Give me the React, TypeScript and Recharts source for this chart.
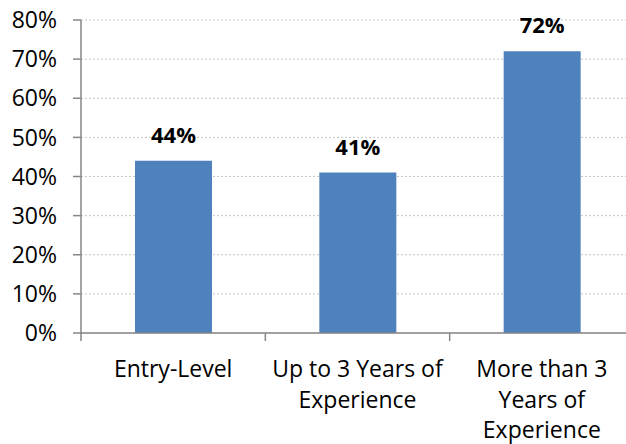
import React from 'react';
import { BarChart, Bar, XAxis, YAxis, CartesianGrid, LabelList } from 'recharts';

const categories = ['Entry-Level', 'Up to 3 Years of\nExperience', 'More than 3\nYears of\nExperience'];
const values = [44, 41, 72];
const yTicks = [0, 10, 20, 30, 40, 50, 60, 70, 80];

const data = categories.map((c, i) => ({ name: c, value: values[i] }));

const CHART_W = 640;
const CHART_H = 444;
const Y_W = 81;
const M_RIGHT = 6;
const HALF_BAND = (CHART_W - Y_W - M_RIGHT) / categories.length / 2;
const FONT = '"Open Sans", sans-serif';
const AXIS_COLOR = '#868686';

const XTick = (props: any) => {
  const { x, y, payload } = props;
  const lines = String(payload.value).split('\n');
  return (
    <g>
      <line x1={x - HALF_BAND} x2={x - HALF_BAND} y1={y} y2={y + 8} stroke={AXIS_COLOR} strokeWidth={1.5} />
      <text x={x} y={y + 44} textAnchor="middle" fontFamily={FONT} fontSize={23} fill="#000">
        {lines.map((l, i) => (
          <tspan key={i} x={x} dy={i === 0 ? 0 : 30.5}>{l}</tspan>
        ))}
      </text>
    </g>
  );
};

export default function App() {
  return (
    <div style={{ position: 'fixed', left: 0, top: 0, width: 626, height: 444, overflow: 'hidden', background: '#fff' }}>
      <BarChart width={CHART_W} height={CHART_H} data={data} margin={{ top: 20, right: M_RIGHT, left: 0, bottom: 0 }}>
        <CartesianGrid vertical={false} stroke="#C4C4C4" strokeDasharray="2 2" />
        <XAxis
          dataKey="name"
          height={111}
          interval={0}
          tickLine={false}
          tickSize={0}
          tickMargin={0}
          axisLine={{ stroke: AXIS_COLOR, strokeWidth: 1.5 }}
          tick={<XTick />}
        />
        <YAxis
          width={Y_W}
          domain={[0, 80]}
          ticks={yTicks}
          interval={0}
          tickFormatter={(v: number) => `${v}%`}
          tickSize={8}
          tickMargin={16}
          axisLine={{ stroke: AXIS_COLOR, strokeWidth: 1.5 }}
          tickLine={{ stroke: AXIS_COLOR, strokeWidth: 1.5 }}
          tick={{ fontFamily: FONT, fontSize: 23, fill: '#000' }}
        />
        <Bar dataKey="value" fill="#4F81BD" barSize={77} isAnimationActive={false}>
          <LabelList
            dataKey="value"
            position="top"
            offset={18}
            formatter={(v: any) => `${v}%`}
            style={{ fontFamily: FONT, fontSize: 22, fontWeight: 700, fill: '#000' }}
          />
        </Bar>
      </BarChart>
    </div>
  );
}
